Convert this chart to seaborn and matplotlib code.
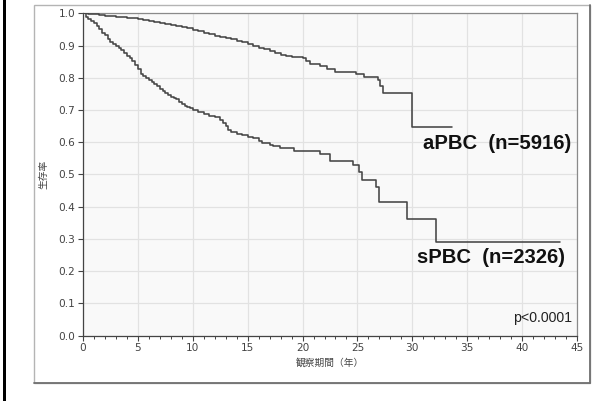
import matplotlib
matplotlib.use("Agg")
import matplotlib.pyplot as plt
from matplotlib.patches import Rectangle
from matplotlib.lines import Line2D
from matplotlib.ticker import MultipleLocator
import numpy as np
import pandas as pd
import seaborn as sns

# Kaplan-Meier survival estimates (years, survival probability)
apbc_t = [0, 0.5, 1, 1.5, 2, 2.5, 3, 3.5, 4, 4.5, 5, 5.5, 6, 6.5, 7, 7.5, 8, 8.5,
          9, 9.5, 10, 10.5, 11, 11.5, 12, 12.5, 13, 13.5, 14, 14.5, 15, 15.5,
          16, 16.5, 17, 17.5, 18, 18.5, 19, 19.5, 20, 20.3, 20.7, 21.6, 22.2,
          23.0, 24.9, 25.6, 26.9, 27.1, 27.3, 30.0, 33.6]
apbc_s = [1.0, 0.999, 0.997, 0.995, 0.993, 0.992, 0.990, 0.988, 0.986, 0.984,
          0.981, 0.979, 0.976, 0.973, 0.970, 0.967, 0.963, 0.960, 0.956, 0.953,
          0.949, 0.944, 0.940, 0.936, 0.931, 0.928, 0.924, 0.920, 0.915, 0.910,
          0.904, 0.899, 0.893, 0.888, 0.882, 0.877, 0.872, 0.869, 0.866, 0.863,
          0.860, 0.852, 0.843, 0.835, 0.828, 0.818, 0.811, 0.802, 0.793, 0.775,
          0.752, 0.646, 0.646]

spbc_t = [0, 0.25, 0.5, 0.75, 1.0, 1.25, 1.5, 1.75, 2.0, 2.25, 2.5, 2.75, 3.0,
          3.25, 3.5, 3.75, 4.0, 4.25, 4.5, 4.75, 5.0, 5.25, 5.5, 5.75, 6.0,
          6.25, 6.5, 6.75, 7.0, 7.25, 7.5, 7.75, 8.0, 8.25, 8.5, 8.75, 9.0,
          9.25, 9.5, 9.75, 10.0, 10.5, 11.0, 11.5, 12.0, 12.5, 12.75, 13.0,
          13.25, 13.5, 14.0, 14.5, 15.0, 15.5, 16.0, 16.3, 17.0, 17.3, 17.9,
          19.2, 21.6, 22.5, 24.6, 25.1, 25.4, 26.7, 27.0, 29.5, 32.2, 43.45]
spbc_s = [1.0, 0.990, 0.983, 0.976, 0.970, 0.962, 0.952, 0.940, 0.932, 0.920,
          0.911, 0.905, 0.898, 0.892, 0.885, 0.876, 0.868, 0.860, 0.852, 0.840,
          0.826, 0.813, 0.806, 0.800, 0.794, 0.788, 0.780, 0.773, 0.765, 0.758,
          0.753, 0.747, 0.741, 0.738, 0.733, 0.726, 0.719, 0.714, 0.710, 0.705,
          0.700, 0.694, 0.688, 0.683, 0.678, 0.668, 0.660, 0.650, 0.637, 0.632,
          0.626, 0.621, 0.617, 0.612, 0.605, 0.597, 0.593, 0.589, 0.581, 0.573,
          0.564, 0.543, 0.530, 0.509, 0.483, 0.462, 0.416, 0.363, 0.290, 0.290]

group_labels = ["aPBC  (n=5916)", "sPBC  (n=2326)"]
p_text = "p<0.0001"
x_label = "観察期間（年）"
y_label = "生存率"

df = pd.concat([
    pd.DataFrame({"t": apbc_t, "S": apbc_s, "group": "aPBC"}),
    pd.DataFrame({"t": spbc_t, "S": spbc_s, "group": "sPBC"}),
], ignore_index=True)

sns.set_theme(style="white")
plt.rcParams["font.family"] = ["DejaVu Sans", "Noto Sans CJK JP"]

W, H = 610, 401
fig = plt.figure(figsize=(W / 100, H / 100), dpi=100)
fig.patch.set_facecolor("white")

# outer decorations: black rule on the left and the framed panel
fig.add_artist(Rectangle((3 / W, 0), 3 / W, 1, transform=fig.transFigure,
                         facecolor="black", edgecolor="none", zorder=-5))
fig.add_artist(Rectangle((34 / W, 1 - 383 / H), (590 - 34) / W, (383 - 5) / H,
                         transform=fig.transFigure, facecolor="white",
                         edgecolor="#b4b4b4", linewidth=1.0, zorder=-5))
fig.add_artist(Line2D([590 / W, 590 / W], [1 - 383 / H, 1 - 5 / H],
                      transform=fig.transFigure, color="#707070", lw=1.3,
                      zorder=-4))
fig.add_artist(Line2D([34 / W, 590 / W], [1 - 383 / H, 1 - 383 / H],
                      transform=fig.transFigure, color="#707070", lw=1.3,
                      zorder=-4))

ax = fig.add_axes([83 / W, (H - 335.7) / H, (577 - 83) / W, (335.7 - 13.3) / H])
ax.set_zorder(2)
ax.set_facecolor("#f9f9f9")

sns.lineplot(data=df, x="t", y="S", units="group", estimator=None,
             color="#454545", linewidth=1.15, drawstyle="steps-post",
             legend=False, ax=ax, zorder=3)

ax.set_xlim(0, 45)
ax.set_ylim(0, 1.0)
ax.xaxis.set_major_locator(MultipleLocator(5))
ax.xaxis.set_minor_locator(MultipleLocator(1))
ax.yaxis.set_major_locator(MultipleLocator(0.1))
ax.yaxis.set_major_formatter(plt.FuncFormatter(lambda v, p: f"{v:.1f}"))
ax.grid(True, which="major", color="#e2e2e2", linewidth=0.9)
ax.set_axisbelow(True)

ax.tick_params(axis="both", which="major", direction="out", length=3.5,
               width=0.8, color="#444444", labelsize=7.6, labelcolor="#444444",
               pad=2, bottom=True, left=True)
ax.tick_params(axis="x", which="minor", direction="out", length=2,
               width=0.7, color="#444444", bottom=True)

for side in ("left", "bottom"):
    ax.spines[side].set_color("#444444")
    ax.spines[side].set_linewidth(0.9)
for side in ("top", "right"):
    ax.spines[side].set_color("#8a8a8a")
    ax.spines[side].set_linewidth(0.9)

ax.set_xlabel(x_label, fontsize=7, color="#444444",
              family=["Noto Sans CJK JP"], labelpad=3)
ax.set_ylabel(y_label, fontsize=7, color="#444444",
              family=["Noto Sans CJK JP"], labelpad=7)

ax.text(31.0, 0.595, group_labels[0], fontsize=14.6, fontweight="bold",
        family=["Liberation Sans"], color="#111111", ha="left", va="center")
ax.text(30.45, 0.243, group_labels[1], fontsize=14.6, fontweight="bold",
        family=["Liberation Sans"], color="#111111", ha="left", va="center")
ax.text(44.6, 0.055, p_text, fontsize=10.2, family=["Liberation Sans"],
        color="#222222", ha="right", va="center")

fig.savefig("out.png", dpi=100, facecolor="white")
